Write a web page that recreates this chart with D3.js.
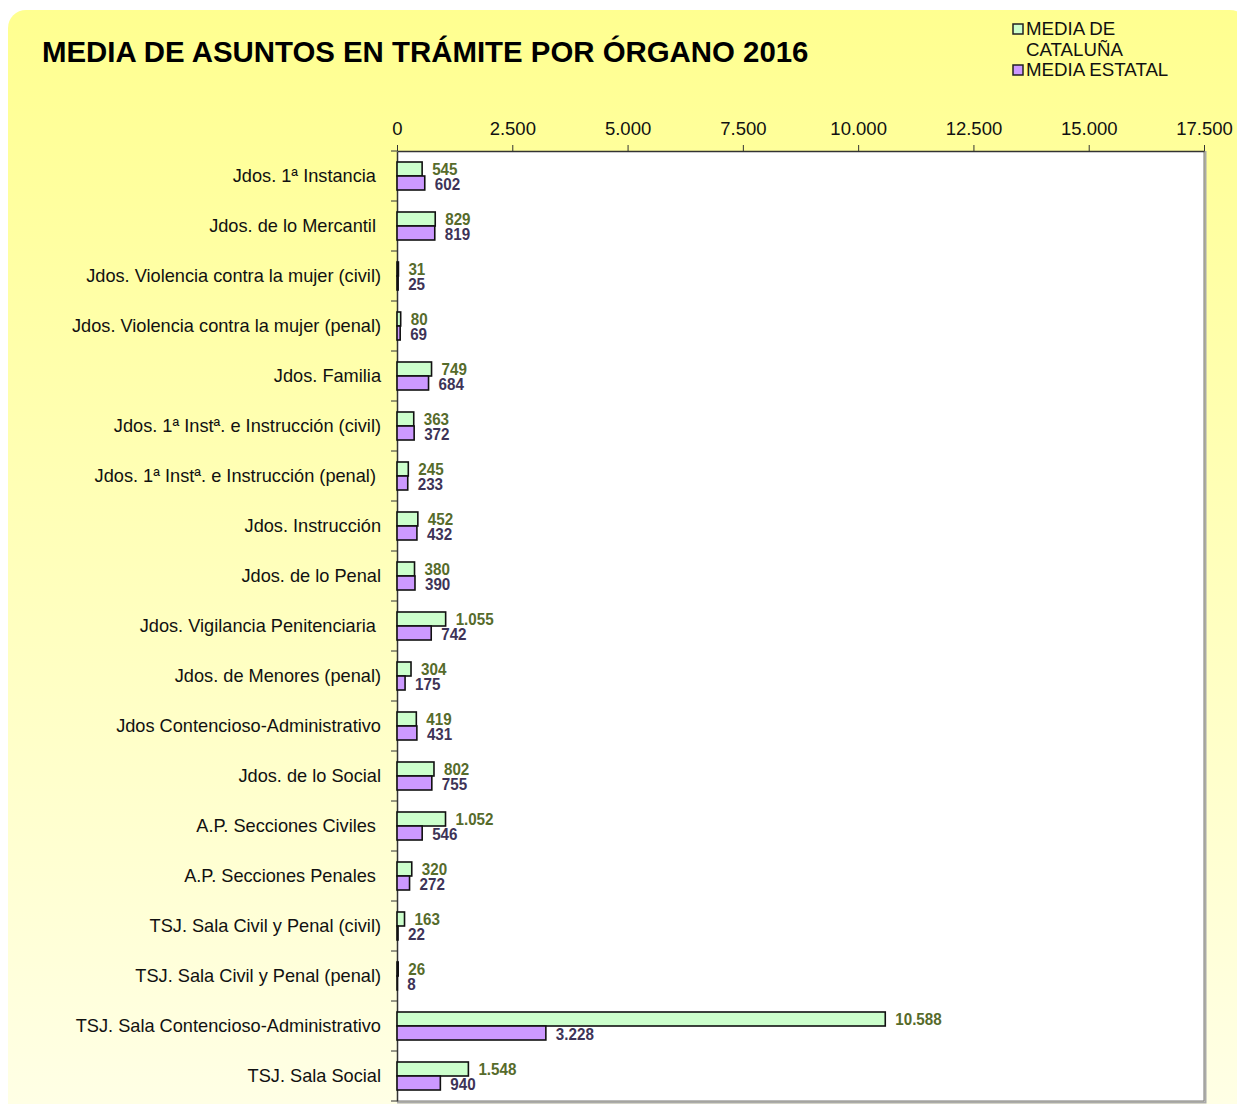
<!DOCTYPE html>
<html>
<head>
<meta charset="utf-8">
<script src="https://cdn.jsdelivr.net/npm/d3@7"></script>
<style>
  body { margin: 0; background: #fff; }
  svg { display: block; }
  .cat text { white-space: pre; }
</style>
</head>
<body>
<div id="chart"></div>
<script>
const organos = [
  "Jdos. 1ª Instancia ",
  "Jdos. de lo Mercantil ",
  "Jdos. Violencia contra la mujer (civil)",
  "Jdos. Violencia contra la mujer (penal)",
  "Jdos. Familia",
  "Jdos. 1ª Instª. e Instrucción (civil)",
  "Jdos. 1ª Instª. e Instrucción (penal) ",
  "Jdos. Instrucción",
  "Jdos. de lo Penal",
  "Jdos. Vigilancia Penitenciaria ",
  "Jdos. de Menores (penal)",
  "Jdos Contencioso-Administrativo",
  "Jdos. de lo Social",
  "A.P. Secciones Civiles ",
  "A.P. Secciones Penales ",
  "TSJ. Sala Civil y Penal (civil)",
  "TSJ. Sala Civil y Penal (penal)",
  "TSJ. Sala Contencioso-Administrativo",
  "TSJ. Sala Social"
];
const mediaCataluna = [545, 829, 31, 80, 749, 363, 245, 452, 380, 1055, 304, 419, 802, 1052, 320, 163, 26, 10588, 1548];
const mediaEstatal = [602, 819, 25, 69, 684, 372, 233, 432, 390, 742, 175, 431, 755, 546, 272, 22, 8, 3228, 940];
const ticks = [0, 2500, 5000, 7500, 10000, 12500, 15000, 17500];
const series = ["MEDIA DE CATALUÑA", "MEDIA ESTATAL"];

const width = 1237, height = 1104;
const margin = { top: 151, right: 33, bottom: 3, left: 397 };
const colores = { fill: ["#ccffcc", "#cc99ff"], text: ["#566b2b", "#3d3357"] };

const es = d3.formatLocale({ decimal: ",", thousands: ".", grouping: [3], currency: ["", " €"] });
const fmt = es.format(",d");

const datos = organos.map((o, i) => ({ organo: o, valores: [mediaCataluna[i], mediaEstatal[i]] }));

const svg = d3.select("#chart").append("svg").attr("width", width).attr("height", height);

const grad = svg.append("defs").append("linearGradient").attr("id", "fondo").attr("x1", 0).attr("y1", 0).attr("x2", 0).attr("y2", 1);
grad.append("stop").attr("offset", "0%").attr("stop-color", "#ffff90");
grad.append("stop").attr("offset", "100%").attr("stop-color", "#ffffe8");

svg.append("rect").attr("x", 8).attr("y", 10).attr("width", 1240).attr("height", 1130).attr("rx", 18).attr("fill", "url(#fondo)");

const x = d3.scaleLinear().domain([0, 17500]).range([margin.left, width - margin.right]);
const y = d3.scaleBand().domain(organos).range([margin.top, height - margin.bottom]);
const ySerie = d3.scaleBand().domain(series).range([11, 39]);

// area del grafico
svg.append("rect").attr("x", x(0)).attr("y", margin.top).attr("width", x(17500) - x(0)).attr("height", height - margin.bottom - margin.top)
  .attr("fill", "#fff");
svg.append("path").attr("d", `M${x(17500) + 1.5},${margin.top} V${height - margin.bottom + 1.5} H${x(0)}`)
  .attr("fill", "none").attr("stroke", "#aaa").attr("stroke-width", 2);
svg.append("path").attr("d", `M${x(17500)},${margin.top} V${height - margin.bottom} H${x(0)}`)
  .attr("fill", "none").attr("stroke", "#777").attr("stroke-width", 1);

// titulo
svg.append("text").attr("x", 42).attr("y", 62).attr("font-family", "Liberation Sans, Arial, sans-serif")
  .attr("font-size", 29.4).attr("font-weight", "bold").attr("fill", "#000")
  .text("MEDIA DE ASUNTOS EN TRÁMITE POR ÓRGANO 2016");

// leyenda
const leyenda = svg.append("g").attr("font-family", "Liberation Sans, Arial, sans-serif").attr("font-size", 18.7).attr("fill", "#111");
[[series[0], 24, ["MEDIA DE", "CATALUÑA"]], [series[1], 65, ["MEDIA ESTATAL"]]].forEach(([s, yy, lineas], i) => {
  leyenda.append("rect").attr("x", 1013).attr("y", yy).attr("width", 10).attr("height", 10)
    .attr("fill", colores.fill[i]).attr("stroke", "#222").attr("stroke-width", 1.5);
  lineas.forEach((l, j) => leyenda.append("text").attr("x", 1026).attr("y", yy + 11 + j * 21).text(l));
});

// eje superior
const ejeX = svg.append("g").attr("transform", `translate(0,${margin.top})`)
  .call(d3.axisTop(x).tickValues(ticks).tickFormat(fmt).tickSize(6).tickSizeOuter(0).tickPadding(10));
ejeX.select(".domain").attr("stroke", "#333").attr("stroke-width", 1.5);
ejeX.selectAll(".tick line").attr("stroke", "#333");
ejeX.selectAll("text").attr("font-family", "Liberation Sans, Arial, sans-serif").attr("font-size", 18.5).attr("fill", "#111");

// eje izquierdo
const ejeY = svg.append("g").attr("class", "cat").attr("transform", `translate(${x(0)},0)`)
  .call(d3.axisLeft(y).tickSize(0).tickPadding(16));
ejeY.select(".domain").attr("stroke", "#333").attr("stroke-width", 1.5);
ejeY.selectAll("text").attr("font-family", "Liberation Sans, Arial, sans-serif").attr("font-size", 18.2).attr("fill", "#111");
svg.append("g").selectAll("line").data(organos.concat([null])).join("line")
  .attr("x1", x(0) - 6).attr("x2", x(0))
  .attr("y1", (d, i) => margin.top + i * y.step()).attr("y2", (d, i) => margin.top + i * y.step())
  .attr("stroke", "#333");

// barras
const grupos = svg.append("g").selectAll("g").data(datos).join("g").attr("transform", (d) => `translate(0,${y(d.organo)})`);
grupos.selectAll("rect").data((d) => d.valores).join("rect")
  .attr("x", x(0)).attr("y", (v, i) => ySerie(series[i]))
  .attr("width", (v) => x(v) - x(0)).attr("height", ySerie.bandwidth())
  .attr("fill", (v, i) => colores.fill[i]).attr("stroke", "#111").attr("stroke-width", 1.6);
grupos.selectAll("text").data((d) => d.valores).join("text")
  .attr("transform", (v, i) => `translate(${x(v) + 10},${ySerie(series[i]) + (i === 0 ? 13 : 13.5)}) scale(0.92,1)`)
  .attr("font-family", "Liberation Sans, Arial, sans-serif")
  .attr("font-size", 16.5).attr("font-weight", "bold")
  .attr("fill", (v, i) => colores.text[i]).text((v) => fmt(v));
</script>
</body>
</html>
